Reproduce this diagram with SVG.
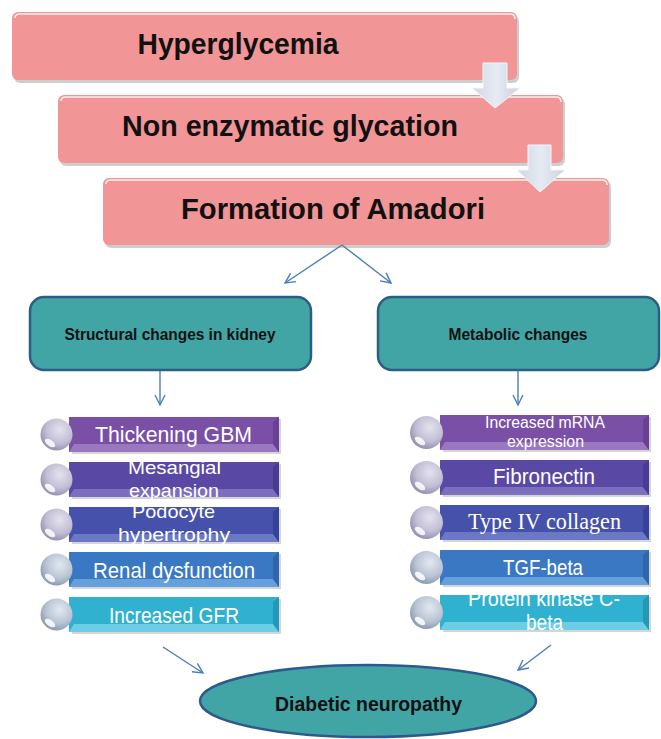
<svg xmlns="http://www.w3.org/2000/svg" width="661" height="739" viewBox="0 0 661 739">
<style>
.pink{fill:#f29596;}
.pshadow{fill:#b9b9b9;opacity:0.7;}
.phl{fill:none;stroke:#ffffff;stroke-width:1.6;opacity:0.85;}
.big{font-family:"Liberation Sans",Arial,sans-serif;font-weight:bold;font-size:29px;fill:#111;}
.teal{fill:#41a5a5;stroke:#2d5d85;stroke-width:2.5;}
.mid{font-family:"Liberation Sans",Arial,sans-serif;font-weight:bold;font-size:16px;fill:#111;}
.ell{font-family:"Liberation Sans",Arial,sans-serif;font-weight:bold;font-size:20px;fill:#111;}
.bl{font-family:"Liberation Sans",Arial,sans-serif;font-size:22px;fill:#fff;}
.bl2{font-family:"Liberation Sans",Arial,sans-serif;font-size:19px;fill:#fff;}
.bls{font-family:"Liberation Sans",Arial,sans-serif;font-size:16px;fill:#fff;}
.ser{font-family:"Liberation Serif","Times New Roman",serif;font-size:23px;fill:#fff;}
.conn{stroke:#4a7ebb;stroke-width:1.4;fill:none;}
.barg{fill:#888;opacity:0.35;}
</style>
<defs>
<marker id="ah" markerWidth="14" markerHeight="14" refX="11" refY="6" orient="auto" markerUnits="userSpaceOnUse">
<path d="M1,1 L11,6 L1,11" fill="none" stroke="#4a7ebb" stroke-width="1.4"/>
</marker>
<linearGradient id="arrowG" x1="0" y1="0" x2="1" y2="0">
<stop offset="0" stop-color="#cfd7e4"/>
<stop offset="0.5" stop-color="#e6ebf3"/>
<stop offset="1" stop-color="#c9d2e0"/>
</linearGradient>
<radialGradient id="sphL" cx="0.6" cy="0.35" r="0.7">
<stop offset="0" stop-color="#e4e2ee"/>
<stop offset="0.6" stop-color="#c2bed6"/>
<stop offset="1" stop-color="#8f8aa8"/>
</radialGradient>
<radialGradient id="sphB" cx="0.6" cy="0.35" r="0.7">
<stop offset="0" stop-color="#e2e8f0"/>
<stop offset="0.6" stop-color="#b9c5d5"/>
<stop offset="1" stop-color="#8595ac"/>
</radialGradient>
<clipPath id="cl2"><rect x="0" y="462" width="661" height="100"/></clipPath>
<clipPath id="cl3"><rect x="0" y="507" width="661" height="100"/></clipPath>
<clipPath id="cr5"><rect x="0" y="595" width="661" height="100"/></clipPath>
</defs>

<!-- Pink flow boxes -->
<g id="hyperglycemia">
<rect class="pshadow" x="14" y="15" width="505" height="68" rx="6"/>
<rect class="pink" x="12" y="12" width="505" height="68" rx="6"/>
<path class="phl" d="M15,18 Q15,14 20,14 H510 Q515,14 515,19"/>
<text class="big" x="238" y="54" text-anchor="middle" textLength="201" lengthAdjust="spacingAndGlyphs">Hyperglycemia</text>
</g>
<g id="glycation">
<rect class="pshadow" x="60" y="98" width="505" height="68" rx="6"/>
<rect class="pink" x="58" y="95" width="505" height="68" rx="6"/>
<path class="phl" d="M61,101 Q61,97 66,97 H556 Q561,97 561,102"/>
<text class="big" x="290" y="136" text-anchor="middle" textLength="336" lengthAdjust="spacingAndGlyphs">Non enzymatic glycation</text>
</g>
<g id="amadori">
<rect class="pshadow" x="105" y="181" width="506" height="67" rx="6"/>
<rect class="pink" x="103" y="178" width="506" height="67" rx="6"/>
<path class="phl" d="M106,184 Q106,180 111,180 H602 Q607,180 607,185"/>
<text class="big" x="333" y="219" text-anchor="middle" textLength="304" lengthAdjust="spacingAndGlyphs">Formation of Amadori</text>
</g>

<!-- Block arrows -->
<g id="blockarrows">
<path d="M483,63 H507 V88 H520 L495,108 L472,88 H483 Z" fill="url(#arrowG)" stroke="#f4f6fa" stroke-width="1"/>
<path d="M528,145 H551 V170 H565 L540,192 L517,170 H528 Z" fill="url(#arrowG)" stroke="#f4f6fa" stroke-width="1"/>
</g>

<!-- Teal boxes -->
<g id="structural">
<rect class="teal" x="30" y="297" width="281" height="73" rx="14"/>
<text class="mid" x="170" y="340" text-anchor="middle" textLength="211" lengthAdjust="spacingAndGlyphs">Structural changes in kidney</text>
</g>
<g id="metabolic">
<rect class="teal" x="378" y="297" width="281" height="73" rx="14"/>
<text class="mid" x="518" y="340" text-anchor="middle" textLength="139" lengthAdjust="spacingAndGlyphs">Metabolic changes</text>
</g>

<!-- Left list -->
<g id="thickening">
<rect class="barg" x="72" y="419" width="209" height="35"/>
<rect x="69" y="417" width="210" height="35" fill="#7a4fa6"/>
<polygon points="74,444 273,444 279,452 69,452" fill="#9a78c0"/>
<polygon points="273,422 279,417 279,452 273,444" fill="#6a4096"/>
<circle cx="56.5" cy="434.5" r="16" fill="url(#sphL)"/>
<ellipse cx="50" cy="443" rx="6" ry="3" fill="#fff" opacity="0.85" transform="rotate(35 50 443)"/>
<text class="bl" x="173.5" y="442" text-anchor="middle" textLength="157" lengthAdjust="spacingAndGlyphs">Thickening GBM</text>
</g>
<g id="mesangial">
<rect class="barg" x="72" y="464" width="209" height="35"/>
<rect x="69" y="462" width="210" height="35" fill="#5a48a5"/>
<polygon points="74,489 273,489 279,497 69,497" fill="#7d6fc0"/>
<polygon points="273,467 279,462 279,497 273,489" fill="#4a3a94"/>
<circle cx="56.5" cy="479.5" r="16" fill="url(#sphL)"/>
<ellipse cx="50" cy="488" rx="6" ry="3" fill="#fff" opacity="0.85" transform="rotate(35 50 488)"/>
<g clip-path="url(#cl2)">
<text class="bl2" x="174.5" y="474" text-anchor="middle" textLength="93" lengthAdjust="spacingAndGlyphs">Mesangial</text>
<text class="bl2" x="174" y="497" text-anchor="middle" textLength="90" lengthAdjust="spacingAndGlyphs">expansion</text>
</g>
</g>
<g id="podocyte">
<rect class="barg" x="72" y="509" width="209" height="35"/>
<rect x="69" y="507" width="210" height="35" fill="#4551ab"/>
<polygon points="74,534 273,534 279,542 69,542" fill="#6a78c6"/>
<polygon points="273,512 279,507 279,542 273,534" fill="#36429a"/>
<circle cx="56.5" cy="524.5" r="16" fill="url(#sphL)"/>
<ellipse cx="50" cy="533" rx="6" ry="3" fill="#fff" opacity="0.85" transform="rotate(35 50 533)"/>
<g clip-path="url(#cl3)">
<text class="bl2" x="173.5" y="518" text-anchor="middle" textLength="83" lengthAdjust="spacingAndGlyphs">Podocyte</text>
<text class="bl2" x="174" y="541" text-anchor="middle" textLength="112" lengthAdjust="spacingAndGlyphs">hypertrophy</text>
</g>
</g>
<g id="renal">
<rect class="barg" x="72" y="554" width="209" height="35"/>
<rect x="69" y="552" width="210" height="35" fill="#3a78c3"/>
<polygon points="74,579 273,579 279,587 69,587" fill="#64a0dc"/>
<polygon points="273,557 279,552 279,587 273,579" fill="#2d66ad"/>
<circle cx="56.5" cy="569.5" r="16" fill="url(#sphB)"/>
<ellipse cx="50" cy="578" rx="6" ry="3" fill="#fff" opacity="0.85" transform="rotate(35 50 578)"/>
<text class="bl" x="174" y="578" text-anchor="middle" textLength="162" lengthAdjust="spacingAndGlyphs">Renal dysfunction</text>
</g>
<g id="gfr">
<rect class="barg" x="72" y="599" width="209" height="35"/>
<rect x="69" y="597" width="210" height="35" fill="#30b1d0"/>
<polygon points="74,624 273,624 279,632 69,632" fill="#6ccde4"/>
<polygon points="273,602 279,597 279,632 273,624" fill="#2299b8"/>
<circle cx="56.5" cy="614.5" r="16" fill="url(#sphB)"/>
<ellipse cx="50" cy="623" rx="6" ry="3" fill="#fff" opacity="0.85" transform="rotate(35 50 623)"/>
<text class="bl" x="174" y="623" text-anchor="middle" textLength="130" lengthAdjust="spacingAndGlyphs">Increased GFR</text>
</g>

<!-- Right list -->
<g id="mrna">
<rect class="barg" x="443" y="417" width="208" height="35"/>
<rect x="440" y="415" width="209" height="35" fill="#7a4fa6"/>
<polygon points="445,442 643,442 649,450 440,450" fill="#9a78c0"/>
<polygon points="643,420 649,415 649,450 643,442" fill="#6a4096"/>
<circle cx="426.5" cy="432.5" r="16.5" fill="url(#sphL)"/>
<ellipse cx="420" cy="441" rx="6" ry="3" fill="#fff" opacity="0.85" transform="rotate(35 420 441)"/>
<text class="bls" x="545" y="428" text-anchor="middle" textLength="120" lengthAdjust="spacingAndGlyphs">Increased mRNA</text>
<text class="bls" x="545.5" y="447" text-anchor="middle" textLength="77" lengthAdjust="spacingAndGlyphs">expression</text>
</g>
<g id="fibronectin">
<rect class="barg" x="443" y="462" width="208" height="35"/>
<rect x="440" y="460" width="209" height="35" fill="#5a48a5"/>
<polygon points="445,487 643,487 649,495 440,495" fill="#7d6fc0"/>
<polygon points="643,465 649,460 649,495 643,487" fill="#4a3a94"/>
<circle cx="426.5" cy="477.5" r="16.5" fill="url(#sphL)"/>
<ellipse cx="420" cy="486" rx="6" ry="3" fill="#fff" opacity="0.85" transform="rotate(35 420 486)"/>
<text class="bl" x="544" y="484" text-anchor="middle" textLength="102" lengthAdjust="spacingAndGlyphs">Fibronectin</text>
</g>
<g id="collagen">
<rect class="barg" x="443" y="507" width="208" height="35"/>
<rect x="440" y="505" width="209" height="35" fill="#4551ab"/>
<polygon points="445,532 643,532 649,540 440,540" fill="#6a78c6"/>
<polygon points="643,510 649,505 649,540 643,532" fill="#36429a"/>
<circle cx="426.5" cy="522.5" r="16.5" fill="url(#sphL)"/>
<ellipse cx="420" cy="531" rx="6" ry="3" fill="#fff" opacity="0.85" transform="rotate(35 420 531)"/>
<text class="ser" x="544.5" y="529" text-anchor="middle" textLength="153" lengthAdjust="spacingAndGlyphs">Type IV collagen</text>
</g>
<g id="tgf">
<rect class="barg" x="443" y="552" width="208" height="35"/>
<rect x="440" y="550" width="209" height="35" fill="#3a78c3"/>
<polygon points="445,577 643,577 649,585 440,585" fill="#64a0dc"/>
<polygon points="643,555 649,550 649,585 643,577" fill="#2d66ad"/>
<circle cx="426.5" cy="567.5" r="16.5" fill="url(#sphB)"/>
<ellipse cx="420" cy="576" rx="6" ry="3" fill="#fff" opacity="0.85" transform="rotate(35 420 576)"/>
<text class="bl" x="543" y="575" text-anchor="middle" textLength="80" lengthAdjust="spacingAndGlyphs">TGF-beta</text>
</g>
<g id="pkc">
<rect class="barg" x="443" y="597" width="208" height="35"/>
<rect x="440" y="595" width="209" height="35" fill="#30b1d0"/>
<polygon points="445,622 643,622 649,630 440,630" fill="#6ccde4"/>
<polygon points="643,600 649,595 649,630 643,622" fill="#2299b8"/>
<circle cx="426.5" cy="612.5" r="16.5" fill="url(#sphB)"/>
<ellipse cx="420" cy="621" rx="6" ry="3" fill="#fff" opacity="0.85" transform="rotate(35 420 621)"/>
<g clip-path="url(#cr5)">
<text class="bl" x="544" y="606" text-anchor="middle" textLength="152" lengthAdjust="spacingAndGlyphs">Protein kinase C-</text>
<text class="bl" x="544.5" y="630" text-anchor="middle" textLength="37" lengthAdjust="spacingAndGlyphs">beta</text>
</g>
</g>

<!-- Ellipse -->
<g id="neuropathy">
<ellipse cx="368" cy="701" rx="168" ry="36" fill="#41a5a5" stroke="#2d5a8c" stroke-width="2.5"/>
<text class="ell" x="368.5" y="711" text-anchor="middle" textLength="187" lengthAdjust="spacingAndGlyphs">Diabetic neuropathy</text>
</g>

<!-- Connectors -->
<g id="connectors">
<line class="conn" x1="342" y1="245" x2="285" y2="283" marker-end="url(#ah)"/>
<line class="conn" x1="342" y1="245" x2="391" y2="283" marker-end="url(#ah)"/>
<line class="conn" x1="160" y1="371" x2="160" y2="405" marker-end="url(#ah)"/>
<line class="conn" x1="518" y1="371" x2="518" y2="405" marker-end="url(#ah)"/>
<line class="conn" x1="163" y1="647" x2="203" y2="673" marker-end="url(#ah)"/>
<line class="conn" x1="551" y1="645" x2="518" y2="670" marker-end="url(#ah)"/>
</g>
</svg>
